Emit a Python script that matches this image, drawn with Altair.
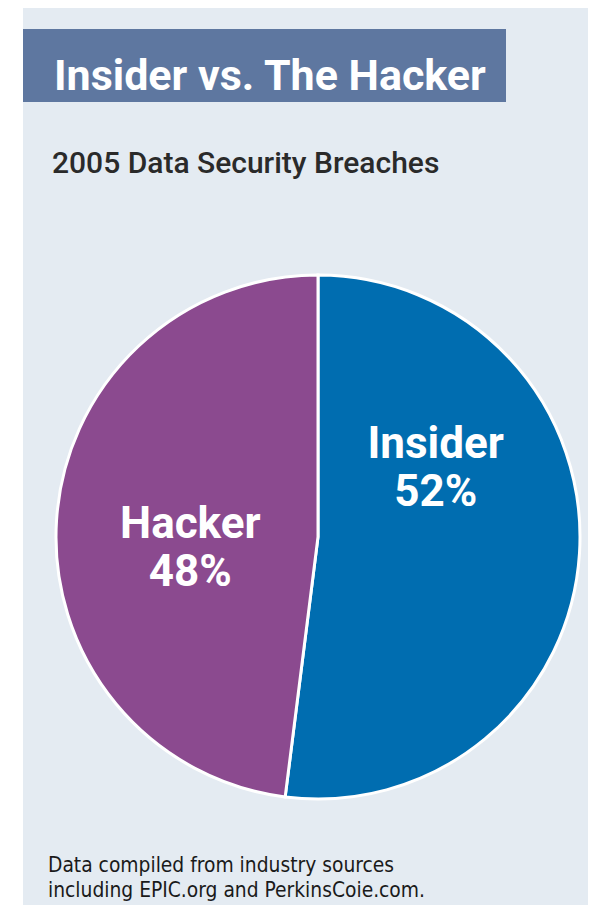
import math
import altair as alt
import pandas as pd

# ---- data ----
categories = ["Insider", "Hacker"]
shares = [52, 48]
slice_colors = ["#006DB0", "#8B4A8F"]
title_text = "Insider vs. The Hacker"
subtitle_text = "2005 Data Security Breaches"
footer_lines = ["Data compiled from industry sources",
                "including EPIC.org and PerkinsCoie.com."]

# ---- layout ----
W, H = 580, 897
CX, CY = 310, 529
R = 262
LABEL_R = 129
ROT = -0.377  # rotation of the label ring (radians)

df = pd.DataFrame({"category": categories, "share": shares})
df["pct"] = [f"{v}%" for v in shares]
one = pd.DataFrame({"k": [0]})

panel = alt.Chart(one).mark_rect(color="#E4EBF2").encode(
    x=alt.value(15), x2=alt.value(W), y=alt.value(0), y2=alt.value(H))
bar = alt.Chart(one).mark_rect(color="#5E77A0").encode(
    x=alt.value(15), x2=alt.value(498), y=alt.value(21), y2=alt.value(94))

title = alt.Chart(one).mark_text(
    align="left", baseline="alphabetic",
    font="Roboto, DejaVu Sans Condensed, sans-serif",
    fontWeight="bold", fontSize=43, color="white"
).encode(x=alt.value(46), y=alt.value(82), text=alt.value(title_text))

subtitle = alt.Chart(one).mark_text(
    align="left", baseline="alphabetic",
    font="Roboto, DejaVu Sans Condensed, sans-serif",
    fontWeight=500, fontSize=30, color="#2A2A2A"
).encode(x=alt.value(44), y=alt.value(165), text=alt.value(subtitle_text))

foot1 = alt.Chart(one).mark_text(
    align="left", baseline="alphabetic",
    font="DejaVu Sans Condensed, sans-serif",
    fontSize=20.8, color="#1A1A1A"
).encode(x=alt.value(40), y=alt.value(864), text=alt.value(footer_lines[0]))
foot2 = alt.Chart(one).mark_text(
    align="left", baseline="alphabetic",
    font="DejaVu Sans Condensed, sans-serif",
    fontSize=20.8, color="#1A1A1A"
).encode(x=alt.value(40), y=alt.value(889), text=alt.value(footer_lines[1]))

base = alt.Chart(df).transform_window(idx="row_number()")

pie = base.mark_arc(outerRadius=R, stroke="white", strokeWidth=3).encode(
    theta=alt.Theta("share:Q", stack=True),
    order=alt.Order("idx:Q"),
    color=alt.Color("category:N",
                    scale=alt.Scale(domain=categories, range=slice_colors),
                    legend=None),
    x=alt.value(CX), y=alt.value(CY))

lab_theta = alt.Theta("share:Q", stack=True,
                      scale=alt.Scale(range=[2 * math.pi + ROT, 4 * math.pi + ROT]))

names = base.mark_text(
    radius=LABEL_R, dx=-5, dy=-39, align="center", baseline="alphabetic",
    font="Roboto, DejaVu Sans Condensed, sans-serif", fontWeight="bold",
    fontSize=44, color="white"
).encode(theta=lab_theta, order=alt.Order("idx:Q"), detail="category:N",
         text="category:N", x=alt.value(CX), y=alt.value(CY))

pcts = base.mark_text(
    radius=LABEL_R, dx=-5, dy=9, align="center", baseline="alphabetic",
    font="Roboto, DejaVu Sans Condensed, sans-serif", fontWeight="bold",
    fontSize=44, color="white"
).encode(theta=lab_theta, order=alt.Order("idx:Q"), detail="category:N",
         text="pct:N", x=alt.value(CX), y=alt.value(CY))

chart = alt.layer(panel, bar, title, subtitle, foot1, foot2, pie, names, pcts).resolve_scale(
    theta="independent"
).properties(
    width=W, height=H, padding=0, autosize="none", background="white"
).configure_view(stroke=None)

chart.save("out.html", embed_options={"renderer": "svg", "actions": False})
